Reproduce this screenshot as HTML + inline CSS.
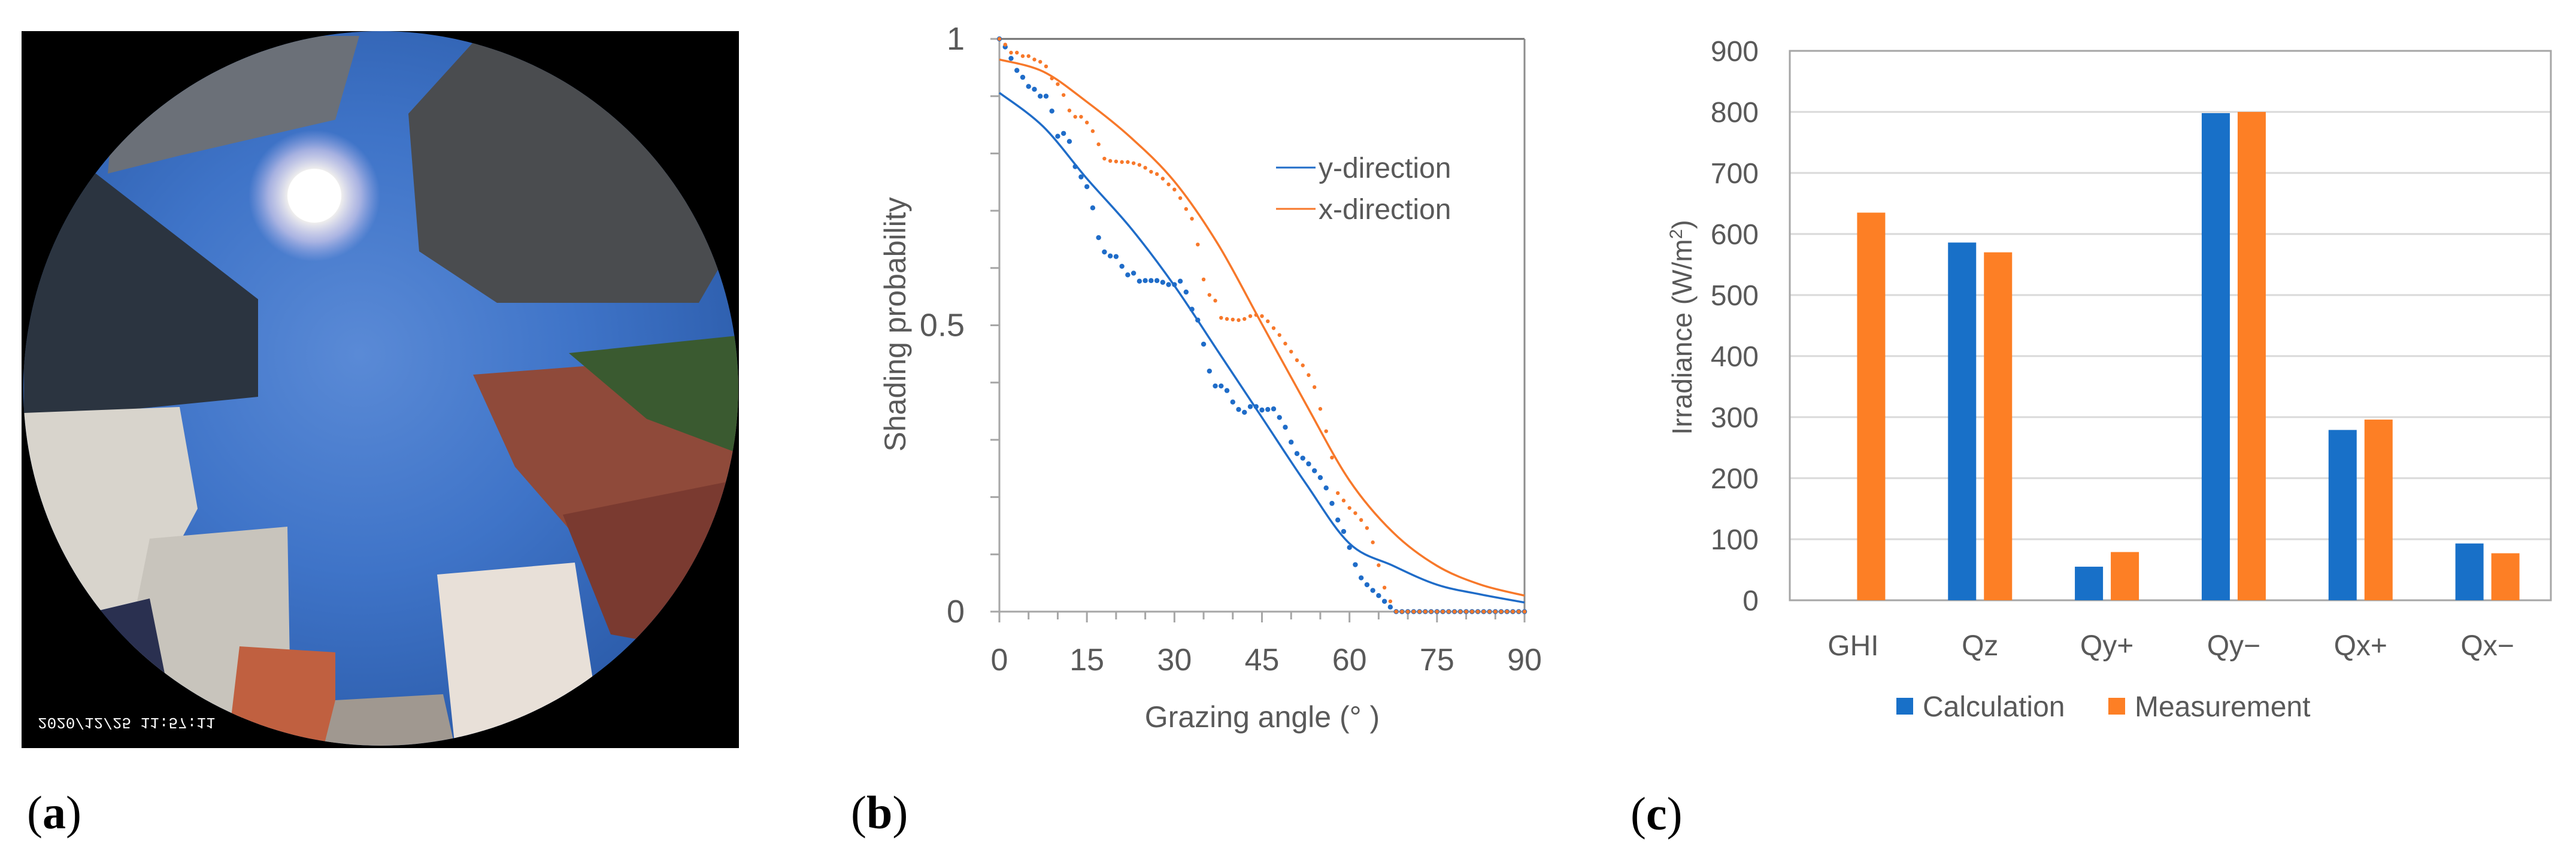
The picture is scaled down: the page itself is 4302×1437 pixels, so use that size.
<!DOCTYPE html>
<html><head><meta charset="utf-8"><style>
html,body{margin:0;padding:0;background:#fff;}
svg{display:block;font-family:"Liberation Sans",sans-serif;}
</style></head><body>
<svg id="fig" width="4302" height="1437" viewBox="0 0 4302 1437" xmlns="http://www.w3.org/2000/svg">
<defs>
<radialGradient id="sky" cx="0.47" cy="0.45" r="0.6">
<stop offset="0" stop-color="#5a8ad6"/><stop offset="0.5" stop-color="#3f74c8"/><stop offset="1" stop-color="#2a5aa8"/>
</radialGradient>
<radialGradient id="sun" cx="0.5" cy="0.5" r="0.5">
<stop offset="0" stop-color="#ffffff"/><stop offset="0.35" stop-color="#fffdf0"/><stop offset="0.7" stop-color="#e9d8f0" stop-opacity="0.6"/><stop offset="1" stop-color="#c8c0f0" stop-opacity="0"/>
</radialGradient>
<clipPath id="lens"><circle cx="636" cy="649" r="597"/></clipPath>
</defs>

<!-- Panel a: photo -->
<g>
<rect x="36" y="52" width="1198" height="1198" fill="#000"/>
<g clip-path="url(#lens)">
<rect x="36" y="52" width="1200" height="1200" fill="url(#sky)"/>
<polygon points="40,300 160,290 431,500 431,663 260,680 40,700" fill="#2b3440"/>
<polygon points="682,190 800,60 1100,60 1240,380 1167,506 830,506 700,420" fill="#4a4c4f"/>
<polygon points="200,60 600,60 560,200 300,260 180,290" fill="#6b7078"/>
<polygon points="790,626 1000,610 1240,620 1240,967 1060,1010 860,780" fill="#8f4a3a"/>
<polygon points="950,590 1240,560 1240,760 1080,700" fill="#3a5a30"/>
<polygon points="40,690 300,680 330,850 250,1000 40,1050" fill="#d8d4cc"/>
<polygon points="250,900 480,880 485,1160 300,1250 200,1150" fill="#c8c4bc"/>
<polygon points="40,1050 250,1000 300,1250 40,1250" fill="#2a3050"/>
<polygon points="400,1080 560,1090 560,1250 380,1250" fill="#c06040"/>
<polygon points="730,960 960,940 1000,1200 760,1250" fill="#e8e0d8"/>
<polygon points="940,860 1240,800 1240,1100 1020,1060" fill="#7a3a30"/>
<polygon points="560,1170 740,1160 760,1250 540,1250" fill="#a09890"/>
<circle cx="525" cy="327" r="110" fill="url(#sun)"/>
<circle cx="525" cy="327" r="45" fill="#ffffff"/>
</g>
<text x="0" y="0" transform="translate(63,1200) scale(1,-1)" fill="#fff" font-size="26" font-family="Liberation Mono, monospace">2020/12/25 11:57:11</text>
</g>
<text x="45" y="1384" font-family="Liberation Serif, serif" font-size="78" fill="#000">(<tspan font-weight="bold">a</tspan>)</text>

<!-- Panel b -->
<g id="chartB"></g>
<text x="1421" y="1384" font-family="Liberation Serif, serif" font-size="78" fill="#000">(<tspan font-weight="bold">b</tspan>)</text>

<!-- Panel c -->
<g id="chartC"></g>
<text x="2723" y="1386" font-family="Liberation Serif, serif" font-size="78" fill="#000">(<tspan font-weight="bold">c</tspan>)</text>
</svg>

<script>
// ---- Panel b data ----
const bLineAngles = [0,7.5,15,22.5,30,37.5,45,52.5,60,67.5,75,82.5,90];
const bLineY = [0.906,0.847,0.756,0.670,0.569,0.454,0.339,0.224,0.119,0.080,0.047,0.030,0.016];
const bLineX = [0.964,0.943,0.890,0.828,0.751,0.641,0.502,0.363,0.229,0.138,0.080,0.047,0.028];
const bDotY = [1.00,0.986,0.966,0.945,0.933,0.917,0.912,0.900,0.900,0.874,0.830,0.835,0.821,0.777,0.759,0.742,0.705,0.653,0.628,0.621,0.620,0.603,0.588,0.591,0.577,0.578,0.578,0.578,0.575,0.571,0.571,0.577,0.558,0.528,0.509,0.467,0.420,0.394,0.394,0.386,0.366,0.353,0.348,0.358,0.358,0.352,0.353,0.354,0.339,0.322,0.296,0.276,0.268,0.258,0.246,0.234,0.216,0.189,0.160,0.140,0.112,0.082,0.059,0.047,0.037,0.028,0.018,0.008,0,0,0,0,0,0,0,0,0,0,0,0,0,0,0,0,0,0,0,0,0,0,0];
const bDotX = [1.00,0.990,0.976,0.976,0.970,0.970,0.964,0.960,0.952,0.931,0.921,0.902,0.875,0.864,0.864,0.854,0.839,0.816,0.791,0.787,0.786,0.785,0.785,0.783,0.780,0.775,0.768,0.764,0.756,0.746,0.737,0.722,0.703,0.686,0.641,0.580,0.553,0.543,0.513,0.511,0.510,0.509,0.511,0.516,0.518,0.516,0.507,0.495,0.483,0.468,0.454,0.439,0.430,0.413,0.392,0.354,0.315,0.269,0.207,0.194,0.181,0.172,0.160,0.146,0.121,0.081,0.042,0.018,0,0,0,0,0,0,0,0,0,0,0,0,0,0,0,0,0,0,0,0,0,0,0];
const bXTicks = [0,15,30,45,60,75,90];
const bYTicks = [0,0.5,1];

// ---- Panel c data ----
const cCategories = ["GHI","Qz","Qy+","Qy\u2212","Qx+","Qx\u2212"];
const cCalc = [null,586,55,798,279,93];
const cMeas = [635,570,79,800,296,77];
const cYTicks = [0,100,200,300,400,500,600,700,800,900];

const NS = "http://www.w3.org/2000/svg";
function mk(parent, tag, attrs, text){
  const e = document.createElementNS(NS, tag);
  for (const k in attrs) e.setAttribute(k, attrs[k]);
  if (text !== undefined) e.textContent = text;
  parent.appendChild(e);
  return e;
}
function smooth(pts){
  let d = "M" + pts[0][0] + "," + pts[0][1];
  for (let i=0;i<pts.length-1;i++){
    const p0=pts[Math.max(0,i-1)], p1=pts[i], p2=pts[i+1], p3=pts[Math.min(pts.length-1,i+2)];
    const c1=[p1[0]+(p2[0]-p0[0])/6, p1[1]+(p2[1]-p0[1])/6];
    const c2=[p2[0]-(p3[0]-p1[0])/6, p2[1]-(p3[1]-p1[1])/6];
    d += " C"+c1[0]+","+c1[1]+" "+c2[0]+","+c2[1]+" "+p2[0]+","+p2[1];
  }
  return d;
}

// ===== Chart B =====
(function(){
  const g = document.getElementById("chartB");
  const L=1669, R=2546, T=65, B=1022;
  const xs = a => L + (a/90)*(R-L);
  const ys = v => B - v*(B-T);
  const BLUE="#1f6cc8", ORANGE="#f7782a", AX="#8c8c8c", TXT="#595959";
  let e;
  e = mk(g,"line",{x1:L,y1:T,x2:R,y2:T,stroke:"#6e6e6e","stroke-width":3});
  
  
  e = mk(g,"line",{x1:R,y1:T,x2:R,y2:B,stroke:AX,"stroke-width":3});
  
  
  e = mk(g,"line",{x1:L,y1:T,x2:L,y2:B,stroke:"#a6a6a6","stroke-width":3});
  
  
  e = mk(g,"line",{x1:L,y1:B,x2:R,y2:B,stroke:"#a6a6a6","stroke-width":3});
  
  
  for (let i=0;i<=10;i++){
    e = mk(g,"line",{x1:L-15,y1:ys(i/10),x2:L,y2:ys(i/10),stroke:"#a6a6a6","stroke-width":3});
    
    
  }
  for (let a=0;a<=90;a+=5){
    const major = a%15===0;
    e = mk(g,"line",{x1:xs(a),y1:B,x2:xs(a),y2:B+(major?18:13),stroke:"#a6a6a6","stroke-width":3});
    
    
  }
  bYTicks.forEach(v=>{
    const t = mk(g,"text",{x:1611,y:ys(v)+18,"text-anchor":"end","font-size":54,fill:TXT}, String(v));
    
    
  });
  bXTicks.forEach(a=>{
    const t = mk(g,"text",{x:xs(a),y:1120,"text-anchor":"middle","font-size":52,fill:TXT}, String(a));
    
    
  });
  e = mk(g,"text",{x:2108,y:1215,"text-anchor":"middle","font-size":50,fill:TXT},"Grazing angle (\u00B0   )");
  
  
  e = mk(g,"text",{x:0,y:0,transform:"translate(1512,542) rotate(-90)","text-anchor":"middle","font-size":50,fill:TXT},"Shading probability");
  
  
  e = mk(g,"path",{d:smooth(bLineAngles.map((a,i)=>[xs(a),ys(bLineY[i])])),fill:"none",stroke:BLUE,"stroke-width":3.5});
  
  
  e = mk(g,"path",{d:smooth(bLineAngles.map((a,i)=>[xs(a),ys(bLineX[i])])),fill:"none",stroke:ORANGE,"stroke-width":3.5});
  
  
  bDotY.forEach((v,i)=>{
    const c = mk(g,"circle",{cx:xs(i),cy:ys(v),r:4.2,fill:BLUE});
    
    
  });
  bDotX.forEach((v,i)=>{
    const c = mk(g,"circle",{cx:xs(i),cy:ys(v),r:3.2,fill:ORANGE});
    
    
  });
  e = mk(g,"line",{x1:2131,y1:280,x2:2197,y2:280,stroke:BLUE,"stroke-width":3});
  
  
  e = mk(g,"text",{x:2202,y:297,"font-size":48,fill:TXT},"y-direction");
  
  
  e = mk(g,"line",{x1:2131,y1:349,x2:2197,y2:349,stroke:ORANGE,"stroke-width":3});
  
  
  e = mk(g,"text",{x:2202,y:366,"font-size":48,fill:TXT},"x-direction");
  
  
})();

// ===== Chart C =====
(function(){
  const g = document.getElementById("chartC");
  const L=2989, R=4260, T=85, B=1003;
  const ys = v => B - (v/900)*(B-T);
  const cw = (R-L)/cCategories.length;
  const BLUE="#1870c8", ORANGE="#fd7f25", TXT="#595959";
  let e;
  cYTicks.forEach(v=>{
    const l = mk(g,"line",{x1:L,y1:ys(v),x2:R,y2:ys(v),stroke:"#d9d9d9","stroke-width":3});
    
    
    const t = mk(g,"text",{x:2937,y:ys(v)+17,"text-anchor":"end","font-size":48,fill:TXT}, String(v));
    
    
  });
  e = mk(g,"rect",{x:L,y:T,width:R-L,height:B-T,fill:"none",stroke:"#a6a6a6","stroke-width":3});
  
  
  const bw=47, gap=13;
  cCategories.forEach((c,i)=>{
    const cx = L + cw*(i+0.5);
    if (cCalc[i]!==null){
      const r = mk(g,"rect",{x:cx-gap/2-bw,y:ys(cCalc[i]),width:bw,height:B-ys(cCalc[i]),fill:BLUE});
      
      
    }
    if (cMeas[i]!==null){
      const r = mk(g,"rect",{x:cx+gap/2,y:ys(cMeas[i]),width:bw,height:B-ys(cMeas[i]),fill:ORANGE});
      
      
    }
    const t = mk(g,"text",{x:cx,y:1095,"text-anchor":"middle","font-size":48,fill:TXT}, c);
    
    
  });
  e = mk(g,"text",{x:0,y:0,transform:"translate(2825,547) rotate(-90)","text-anchor":"middle","font-size":46,fill:TXT});
  
  
  e.innerHTML = 'Irradiance (W/m<tspan baseline-shift="super" font-size="30">2</tspan>)';
  e = mk(g,"rect",{x:3167,y:1166,width:28,height:28,fill:BLUE});
  
  
  e = mk(g,"text",{x:3211,y:1197,"font-size":48,fill:TXT},"Calculation");
  
  
  e = mk(g,"rect",{x:3521,y:1166,width:28,height:28,fill:ORANGE});
  
  
  e = mk(g,"text",{x:3565,y:1197,"font-size":48,fill:TXT},"Measurement");
  
  
})();
</script>
</body></html>
